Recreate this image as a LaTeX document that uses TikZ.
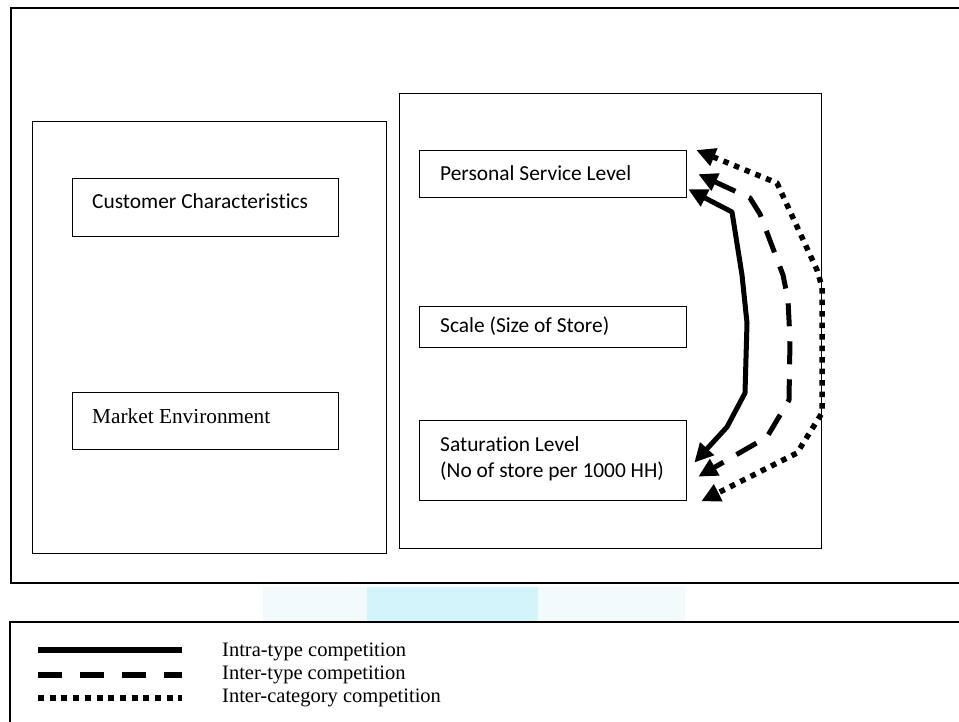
\documentclass[tikz,border=0pt]{standalone}
\usepackage{fontspec}
\setmainfont{Liberation Serif}
\newfontfamily\calibri[Ligatures=NoCommon]{Carlito}
\usetikzlibrary{arrows.meta,calc}
\definecolor{wmpale}{RGB}{242,250,252}
\definecolor{wmcyan}{RGB}{210,244,250}
\begin{document}
\begin{tikzpicture}[x=1pt,y=-1pt,
  frame/.style={draw=black,line width=1.6pt},
  box/.style={draw=black,line width=1.3pt,rectangle,inner sep=0pt,anchor=north west},
  cal/.style={font=\calibri\fontsize{21.4}{26}\selectfont,inner sep=0pt,anchor=base west},
  tms/.style={font=\fontsize{21.3}{26}\selectfont,inner sep=0pt,anchor=base west},
  leg/.style={font=\fontsize{20.5}{24}\selectfont,inner sep=0pt,anchor=base west},
  arr/.style={line width=5pt,line join=round,<->,>={Triangle[length=19pt,width=18pt]}},
  solidarr/.style={arr},
  dasharr/.style={arr,dash pattern=on 23pt off 15pt},
  dotarr/.style={arr,line width=5.5pt,dash pattern=on 5.5pt off 6pt},
  legsolid/.style={line width=5.5pt},
  legdash/.style={line width=5.5pt,dash pattern=on 24pt off 18pt},
  legdot/.style={line width=5.5pt,dash pattern=on 6pt off 5.7pt}]
\useasboundingbox (0,0) rectangle (959,722);
% faint watermark
\fill[wmpale] (263,587) rectangle (685,621);
\fill[wmcyan] (367,587) rectangle (538,621);
% frames
\draw[frame] (975,8) -- (11,8) -- (11,583) -- (975,583);
\draw[frame] (975,622) -- (10,622) -- (10,740);
% panels
\node[box,minimum width=354pt,minimum height=432pt] (leftpanel) at (32,121) {};
\node[box,minimum width=422pt,minimum height=455pt] (rightpanel) at (399,93) {};
% boxes
\node[box,minimum width=266pt,minimum height=58pt] (cc) at (72,178) {};
\node[box,minimum width=266pt,minimum height=57pt] (me) at (72,392) {};
\node[box,minimum width=267pt,minimum height=47pt] (psl) at (419,150) {};
\node[box,minimum width=267pt,minimum height=41pt] (scale) at (419,306) {};
\node[box,minimum width=267pt,minimum height=80pt] (sat) at (419,420) {};
% labels
\node[cal] (ccl) at (92,209) {Customer Characteristics};
\node[tms] (mel) at (92,423) {Market Environment};
\node[cal] (psll) at (440,181) {Personal Service Level};
\node[cal] (scl) at (440,332) {Scale (Size of Store)};
\node[cal] (satl1) at (440,451) {Saturation Level};
\node[cal] (satl2) at (440,477) {(No of store per 1000 HH)};
% arrows
\draw[solidarr] ($(psl.south east)+(1,-9)$) -- (732,212) -- (742,275) -- (747,323) -- (745,393) -- (727,427) -- ($(sat.east)+(7,2)$);
\draw[dasharr] ($(psl.east)+(11,0)$) -- (750,198) -- (760,214) -- (783,275) -- (788,300) -- (790,340) -- (789,400) -- (767,437) -- ($(sat.east)+(11,16)$);
\draw[dotarr] ($(psl.north east)+(9,0)$) -- (777,183) -- (817,270) -- (822,287) -- (822,413) -- (797,453) -- ($(sat.south east)+(14,0)$);
% legend
\coordinate (s1a) at (38,650); \coordinate (s1b) at (182,650);
\coordinate (s2a) at (38,675); \coordinate (s2b) at (182,675);
\coordinate (s3a) at (38,698); \coordinate (s3b) at (182,698);
\draw[legsolid] (s1a) -- (s1b);
\draw[legdash] (s2a) -- (s2b);
\draw[legdot] (s3a) -- (s3b);
\node[leg] (lt1) at (222,656) {Intra-type competition};
\node[leg] (lt2) at (222,679) {Inter-type competition};
\node[leg] (lt3) at (222,702) {Inter-category competition};
\end{tikzpicture}
\end{document}
